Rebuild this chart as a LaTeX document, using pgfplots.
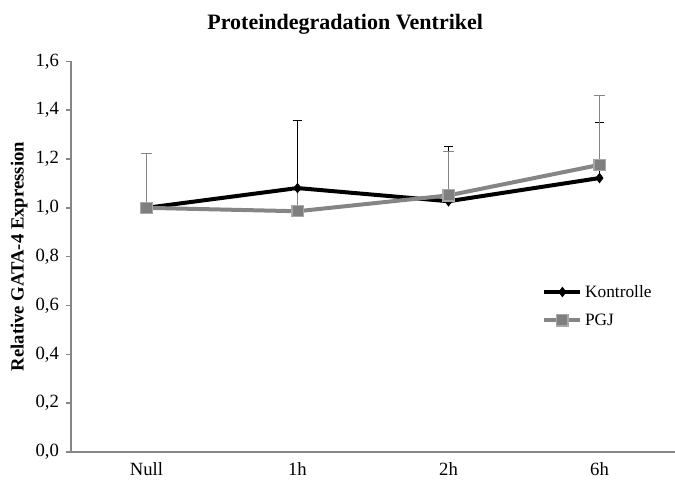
\documentclass[border=0pt]{standalone}
\usepackage{fontspec}
\setmainfont{Liberation Serif}
\usepackage{pgfplots}
\pgfplotsset{compat=1.18}

\definecolor{axisgray}{HTML}{868686}
\definecolor{pgjline}{HTML}{858585}
\definecolor{pgjfill}{HTML}{7F7F7F}
\definecolor{pgjedge}{HTML}{A8A8A8}

\begin{document}
\begin{tikzpicture}
\begin{axis}[
  scale only axis,
  width=453pt, height=293pt,
  xmin=-0.5, xmax=3.5,
  ymin=0, ymax=1.6,
  axis x line*=bottom, axis y line*=left,
  axis line style={draw=axisgray, line width=1.1pt},
  tick align=outside,
  major tick length=3.5pt, minor tick length=3.5pt,
  tick style={draw=axisgray, line width=1.1pt},
  xtick={0,1,2,3},
  xticklabels={Null,1h,2h,6h},
  xtick style={draw=none},
  minor xtick={-0.5,0.5,1.5,2.5,3.5},
  xticklabel style={yshift=-3pt, inner sep=1pt},
  ytick={0,0.2,...,1.6},
  yticklabel style={xshift=-2pt, /pgf/number format/.cd, fixed, fixed zerofill, precision=1, use comma},
  /pgf/number format/assume math mode=true,
  ticklabel style={font=\fontsize{14}{16}\selectfont},
  ylabel={\textbf{Relative GATA-4 Expression}},
  ylabel style={at={(axis description cs:-0.086,0.5)}, anchor=center, font=\fontsize{14}{16}\selectfont},
  title={\textbf{Proteindegradation Ventrikel}},
  title style={at={(axis description cs:0.454,1.10)}, anchor=center, yshift=-7.5pt, font=\fontsize{16.5}{19}\selectfont},
  legend style={draw=none, fill=none, at={(axis description cs:0.78,0.435)}, anchor=north west,
    font=\fontsize{13}{15}\selectfont, row sep=7pt, inner sep=0pt},
  legend cell align=left,
  legend image code/.code={
    \draw[#1] (0cm,0cm) -- (0.95cm,0cm);
    \draw[#1, only marks] plot coordinates {(0.475cm,0cm)};
  },
  clip=false,
]
% Kontrolle
\addplot[black, line width=3pt, mark=diamond*, mark size=3.6pt,
  mark options={line width=0.5pt, fill=black},
  error bars/.cd, y dir=plus, y explicit,
  error bar style={black, line width=0.6pt, mark options={line width=0.6pt, mark size=3.6pt}},
  error mark=-]
  table[x=x, y=y, y error=e] {
  x y e
  0 1.000 0.000
  1 1.081 0.277
  2 1.027 0.227
  3 1.122 0.228
  };
\addlegendentry{Kontrolle}
% PGJ
\addplot[pgjline, line width=3pt, mark=square*, mark size=4.2pt,
  mark options={line width=0.9pt, draw=pgjedge, fill=pgjfill},
  error bars/.cd, y dir=plus, y explicit,
  error bar style={pgjline, line width=0.6pt, mark options={line width=0.6pt, mark size=3.6pt}},
  error mark=-]
  table[x=x, y=y, y error=e] {
  x y e
  0 1.000 0.224
  1 0.986 0.085
  2 1.051 0.179
  3 1.176 0.284
  };
\addlegendentry{PGJ}
\end{axis}
\pgfresetboundingbox
\useasboundingbox (-53.25pt,-21.75pt) rectangle (453pt,339pt);
\end{tikzpicture}
\end{document}
